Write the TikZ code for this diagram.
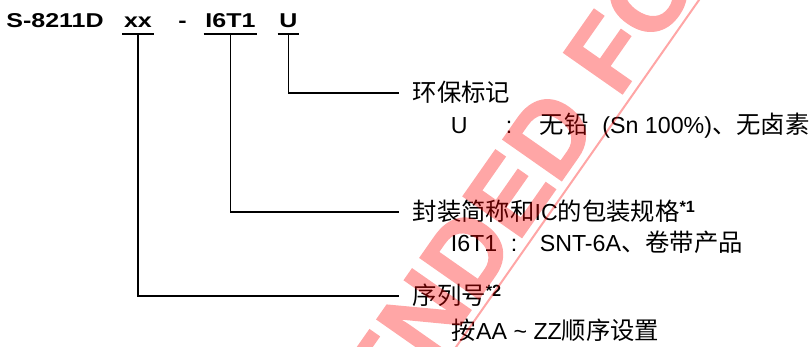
\documentclass[tikz,border=0pt]{standalone}
\usepackage{fontspec}
\setmainfont{Liberation Sans}
\newfontfamily\cjk{Noto Sans CJK SC}[Scale=1.05]
\newfontfamily\partfont{Liberation Sans Bold}[FakeStretch=1.25]
\newfontfamily\stampfont{Liberation Sans Bold}[FakeBold=1.5]
\newcommand\zh[1]{{\cjk #1}}

\begin{document}
\begin{tikzpicture}[x=0.5pt, y=-0.5pt, line width=0.8pt,
    font=\fontsize{11.6}{14}\selectfont]
    \useasboundingbox (0,0) rectangle (811,347);

        \begin{scope}[every node/.style={font=\fontsize{10}{12}\selectfont\partfont,anchor=base,text depth=0pt,inner xsep=0.5pt,inner ysep=2.5pt}]
            \node (model) at (55,28) {S-8211D};
            \node (sn) at (138,28) {xx};
            \node (dash) at (182.5,28) {-};
            \node (pkg) at (230.5,28) {I6T1};
            \node (env) at (288.5,28) {U};
        \end{scope}

        \begin{scope}[every node/.style={anchor=base west,inner sep=0pt}]
            \node[inner xsep=6.5pt] (envlbl) at (399,102) {\zh{环保标记}};
            \node (envkey) at (450,134) {U};
            \node (envcol) at (505,134) {:};
            \node (envval) at (539,134) {\zh{无铅}\hspace{0.6em}(Sn 100\%)\zh{、无卤素}};

            \node[inner xsep=6.5pt] (pkglbl) at (399,221) {\zh{封装简称和}IC\zh{的包装规格}\textsuperscript{\bfseries *1}};
            \node (pkgkey) at (450,252) {I6T1};
            \node (pkgcol) at (510,252) {:};
            \node (pkgval) at (539,252) {SNT-6A\zh{、卷带产品}};

            \node[inner xsep=6.5pt] (snlbl) at (399,305) {\zh{序列号}\textsuperscript{\bfseries *2}};
            \node (snval) at (451,340) {\zh{按}AA \textasciitilde{} ZZ\zh{顺序设置}};
        \end{scope}

        \begin{scope}[every path/.style={draw=black}]
            \path (sn.south west) edge (sn.south east);
            \path (pkg.south west) edge (pkg.south east);
            \path (env.south west) edge (env.south east);

            \draw (env.south) |- ([yshift=4.5pt]envlbl.base west);
            \draw (pkg.south) |- ([yshift=4.5pt]pkglbl.base west);
            \draw (sn.south) |- ([yshift=4.5pt]snlbl.base west);
        \end{scope}

        \begin{scope}[transparency group, opacity=0.35]
            \clip (0,0) rectangle (811,347);
            \begin{scope}[shift={(618,100)}, rotate=55, transform shape,
                every node/.style={text=red,inner sep=0pt,font=\fontsize{52}{52}\selectfont\stampfont}]
                \node[anchor=base west] (wmfor) at (0,0) {FOR NEW DESIGN};
                \node[anchor=base east] (wmrec) at (wmfor.base west) {NOT RECOMMENDED\kern0.28em};
                \draw[red, line width=1pt] (-1400,9) -- (1400,9);
            \end{scope}
        \end{scope}

\end{tikzpicture}
\end{document}
